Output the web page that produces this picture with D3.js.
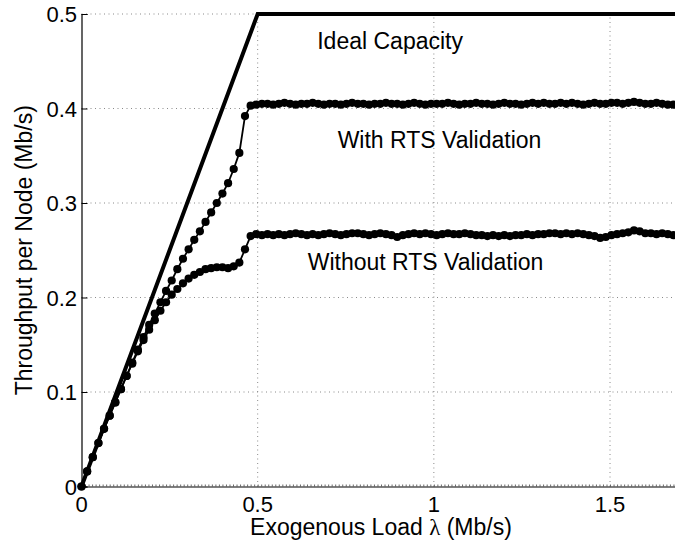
<!DOCTYPE html>
<html>
<head>
<meta charset="utf-8">
<script src="https://cdn.jsdelivr.net/npm/d3@7"></script>
<style>
  html, body { margin: 0; padding: 0; background: #fff; overflow: hidden; }
  svg { display: block; }
  text { font-family: "Liberation Sans", Arial, Helvetica, sans-serif; fill: #000; }
</style>
</head>
<body>
<svg id="chart" width="675" height="546"></svg>
<script>
// Offered load grid (Mb/s)
const load = [
  0.000, 0.016, 0.032, 0.048, 0.064, 0.080, 0.096, 0.112, 0.128, 0.144,
  0.160, 0.176, 0.192, 0.208, 0.224, 0.240, 0.256, 0.272, 0.288, 0.304,
  0.320, 0.336, 0.352, 0.368, 0.384, 0.400, 0.416, 0.432, 0.448, 0.464,
  0.480, 0.496, 0.512, 0.528, 0.544, 0.560, 0.576, 0.592, 0.608, 0.624,
  0.640, 0.656, 0.672, 0.688, 0.704, 0.720, 0.736, 0.752, 0.768, 0.784,
  0.800, 0.816, 0.832, 0.848, 0.864, 0.880, 0.896, 0.912, 0.928, 0.944,
  0.960, 0.976, 0.992, 1.008, 1.024, 1.040, 1.056, 1.072, 1.088, 1.104,
  1.120, 1.136, 1.152, 1.168, 1.184, 1.200, 1.216, 1.232, 1.248, 1.264,
  1.280, 1.296, 1.312, 1.328, 1.344, 1.360, 1.376, 1.392, 1.408, 1.424,
  1.440, 1.456, 1.472, 1.488, 1.504, 1.520, 1.536, 1.552, 1.568, 1.584,
  1.600, 1.616, 1.632, 1.648, 1.664, 1.680, 1.696
];

// Throughput with RTS validation (Mb/s)
const withRTS = [
  0.000, 0.016, 0.031, 0.046, 0.061, 0.075, 0.089, 0.103, 0.117, 0.131,
  0.145, 0.158, 0.171, 0.183, 0.195, 0.207, 0.218, 0.230, 0.241, 0.251,
  0.261, 0.270, 0.280, 0.290, 0.300, 0.310, 0.321, 0.336, 0.353, 0.392,
  0.403, 0.404, 0.405, 0.405, 0.404, 0.405, 0.406, 0.405, 0.404, 0.405,
  0.405, 0.406, 0.405, 0.404, 0.405, 0.405, 0.404, 0.405, 0.406, 0.405,
  0.405, 0.404, 0.405, 0.405, 0.406, 0.405, 0.405, 0.404, 0.405, 0.406,
  0.405, 0.404, 0.405, 0.405, 0.405, 0.406, 0.405, 0.404, 0.405, 0.405,
  0.406, 0.405, 0.405, 0.404, 0.405, 0.406, 0.405, 0.405, 0.404, 0.405,
  0.406, 0.405, 0.406, 0.405, 0.405, 0.406, 0.405, 0.406, 0.405, 0.404,
  0.405, 0.406, 0.405, 0.405, 0.406, 0.406, 0.405, 0.406, 0.407, 0.406,
  0.405, 0.405, 0.406, 0.405, 0.404, 0.404, 0.403
];

// Throughput without RTS validation (Mb/s)
const withoutRTS = [
  0.000, 0.016, 0.031, 0.046, 0.061, 0.075, 0.089, 0.103, 0.117, 0.130,
  0.143, 0.155, 0.166, 0.176, 0.186, 0.195, 0.203, 0.209, 0.215, 0.220,
  0.224, 0.227, 0.230, 0.231, 0.232, 0.232, 0.231, 0.233, 0.237, 0.251,
  0.265, 0.267, 0.266, 0.267, 0.266, 0.267, 0.266, 0.267, 0.268, 0.267,
  0.266, 0.267, 0.266, 0.267, 0.268, 0.267, 0.266, 0.267, 0.268, 0.268,
  0.267, 0.266, 0.267, 0.268, 0.267, 0.266, 0.264, 0.266, 0.267, 0.268,
  0.267, 0.268, 0.267, 0.266, 0.267, 0.268, 0.267, 0.267, 0.268, 0.267,
  0.266, 0.266, 0.265, 0.266, 0.265, 0.266, 0.265, 0.266, 0.266, 0.267,
  0.266, 0.267, 0.267, 0.268, 0.268, 0.267, 0.268, 0.267, 0.268, 0.267,
  0.266, 0.265, 0.263, 0.264, 0.266, 0.267, 0.268, 0.269, 0.271, 0.270,
  0.268, 0.268, 0.267, 0.268, 0.267, 0.266, 0.266
];

// Ideal capacity: throughput equals load until the 0.5 Mb/s ceiling
const idealLoad = [0, 0.5, 1.7];
const idealCap  = [0, 0.5, 0.5];

const xTicks = [0, 0.5, 1, 1.5];
const xTickLabels = ["0", "0.5", "1", "1.5"];
const yTicks = [0, 0.1, 0.2, 0.3, 0.4, 0.5];
const yTickLabels = ["0", "0.1", "0.2", "0.3", "0.4", "0.5"];

const annotations = [
  { text: "Ideal Capacity", x: 0.669, y: 0.463 },
  { text: "With RTS Validation", x: 0.727, y: 0.358 },
  { text: "Without RTS Validation", x: 0.642, y: 0.229 }
];

const svg = d3.select("#chart");
const x = d3.scaleLinear().domain([0, 1.7]).range([81.5, 680.5]);
const y = d3.scaleLinear().domain([0, 0.5]).range([486.5, 14]);

// dotted grid
const grid = svg.append("g");
grid.selectAll("line.gx").data(xTicks.filter(d => d > 0)).join("line")
  .attr("x1", d => x(d)).attr("x2", d => x(d))
  .attr("y1", y(0)).attr("y2", y(0.5))
  .attr("stroke", "#8a8a8a").attr("stroke-width", 1)
  .attr("stroke-dasharray", "1,3.5");
grid.selectAll("line.gy").data(yTicks.filter(d => d > 0)).join("line")
  .attr("x1", x(0)).attr("x2", 675)
  .attr("y1", d => y(d)).attr("y2", d => y(d))
  .attr("stroke", "#8a8a8a").attr("stroke-width", 1)
  .attr("stroke-dasharray", "1,3.5");

// axes
const xAxis = d3.axisBottom(x).tickValues(d3.range(0, 1.701, 0.01)).tickSize(-2).tickFormat("");
const gx = svg.append("g").attr("transform", `translate(0,${y(0)})`).call(xAxis);
gx.select(".domain").attr("stroke", "#000").attr("stroke-width", 1.2);
gx.selectAll(".tick line").attr("stroke", "#444").attr("stroke-width", 0.8);

const yAxis = d3.axisLeft(y).tickValues(yTicks).tickSize(-6).tickFormat("");
const gy = svg.append("g").attr("transform", `translate(${x(0)},0)`).call(yAxis);
gy.select(".domain").attr("stroke", "#000").attr("stroke-width", 1.2);
gy.selectAll(".tick line").attr("stroke", "#000").attr("stroke-width", 1);

// tick labels
svg.append("g").selectAll("text").data(xTicks).join("text")
  .attr("x", d => x(d)).attr("y", 511.5)
  .attr("text-anchor", "middle").attr("font-size", 22)
  .text((d, i) => xTickLabels[i]);
svg.append("g").selectAll("text").data(yTicks).join("text")
  .attr("x", 77).attr("y", d => y(d) + 8)
  .attr("text-anchor", "end").attr("font-size", 22)
  .text((d, i) => yTickLabels[i]);

// axis titles
const xt = svg.append("text")
  .attr("x", x(0.85)).attr("y", 535)
  .attr("text-anchor", "middle").attr("font-size", 23);
xt.append("tspan").text("Exogenous Load ");
xt.append("tspan").attr("font-family", "'Liberation Serif', 'Times New Roman', serif").text("λ");
xt.append("tspan").text(" (Mb/s)");

svg.append("text")
  .attr("transform", `translate(32,${y(0.25)}) rotate(-90)`)
  .attr("text-anchor", "middle").attr("font-size", 23)
  .text("Throughput per Node (Mb/s)");

// measured series
const line = d3.line().x(d => x(d[0])).y(d => y(d[1]));
[withRTS, withoutRTS].forEach(series => {
  const pts = load.map((l, i) => [l, series[i]]);
  svg.append("path").datum(pts)
    .attr("d", line).attr("fill", "none")
    .attr("stroke", "#000").attr("stroke-width", 1.8);
  svg.append("g").selectAll("circle").data(pts).join("circle")
    .attr("cx", d => x(d[0])).attr("cy", d => y(d[1]))
    .attr("r", 4.1).attr("fill", "#000");
});

// ideal capacity
svg.append("path").datum(idealLoad.map((l, i) => [l, idealCap[i]]))
  .attr("d", line).attr("fill", "none")
  .attr("stroke", "#000").attr("stroke-width", 4)
  .attr("stroke-linejoin", "miter");

// curve labels
svg.append("g").selectAll("text").data(annotations).join("text")
  .attr("x", d => x(d.x)).attr("y", d => y(d.y))
  .attr("font-size", 23)
  .text(d => d.text);
</script>
</body>
</html>
